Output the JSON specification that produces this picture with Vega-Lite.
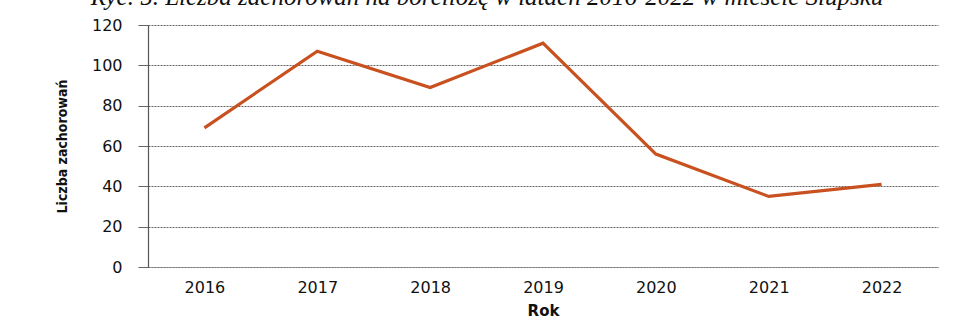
{
  "$schema": "https://vega.github.io/schema/vega-lite/v6.json",
  "autosize": "none",
  "width": 790,
  "height": 242,
  "padding": {"left": 148, "top": 25, "right": 17, "bottom": 67},
  "background": "white",
  "title": {
    "text": "Ryc. 5. Liczba zachorowań na boreliozę w latach 2016-2022 w mieście Słupsku",
    "font": "Liberation Serif",
    "fontStyle": "italic",
    "fontWeight": "normal",
    "fontSize": 25,
    "color": "#111",
    "anchor": "middle",
    "orient": "top",
    "baseline": "alphabetic",
    "frame": "group",
    "offset": 0,
    "dy": 13,
    "dx": -56
  },
  "data": {
    "values": [
      {"rok": "2016", "liczba": 69},
      {"rok": "2017", "liczba": 107},
      {"rok": "2018", "liczba": 89},
      {"rok": "2019", "liczba": 111},
      {"rok": "2020", "liczba": 56},
      {"rok": "2021", "liczba": 35},
      {"rok": "2022", "liczba": 41}
    ]
  },
  "mark": {"type": "line", "color": "#C8511F", "strokeWidth": 3.2, "strokeJoin": "miter"},
  "encoding": {
    "x": {
      "field": "rok",
      "type": "ordinal",
      "scale": {"type": "point", "padding": 0.5},
      "axis": {
        "title": "Rok",
        "titleFont": "DejaVu Sans",
        "titleFontWeight": "bold",
        "titleFontSize": 15,
        "titleColor": "#111",
        "titlePadding": 8,
        "labelFont": "DejaVu Sans",
        "labelFontSize": 16,
        "labelColor": "#111",
        "labelAngle": 0,
        "labelPadding": 12,
        "ticks": false,
        "domain": true,
        "domainColor": "#777",
        "domainWidth": 1,
        "domainDash": [2, 1],
        "grid": false
      }
    },
    "y": {
      "field": "liczba",
      "type": "quantitative",
      "scale": {"domain": [0, 120], "nice": false},
      "axis": {
        "title": "Liczba zachorowań",
        "titleFont": "DejaVu Sans Condensed",
        "titleFontWeight": "bold",
        "titleFontSize": 14,
        "titleColor": "#111",
        "titlePadding": 22,
        "values": [0, 20, 40, 60, 80, 100, 120],
        "labelFont": "DejaVu Sans",
        "labelFontSize": 16,
        "labelColor": "#111",
        "labelPadding": 16,
        "ticks": true,
        "tickSize": 10,
        "tickColor": "#666",
        "domain": true,
        "domainColor": "#555",
        "domainWidth": 1.2,
        "grid": true,
        "gridColor": "#666",
        "gridWidth": 1,
        "gridDash": [2, 1]
      }
    }
  },
  "config": {"view": {"stroke": null}}
}
